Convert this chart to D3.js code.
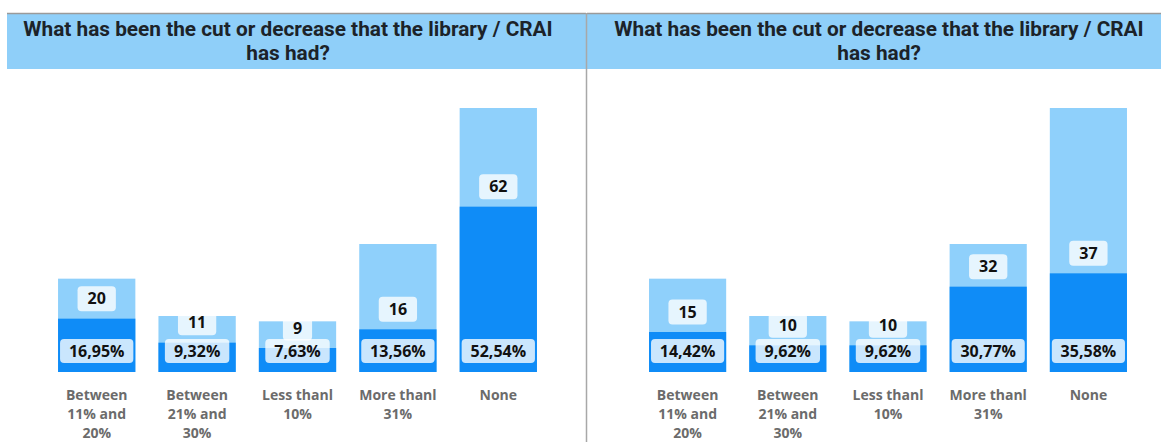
<!DOCTYPE html>
<html>
<head>
<meta charset="utf-8">
<script src="https://cdn.jsdelivr.net/npm/d3@7"></script>
<style>
  html, body { margin: 0; padding: 0; background: #fff; }
  svg { display: block; }
</style>
</head>
<body>
<svg id="chart" width="1161" height="442"></svg>
<script>
// Response categories and their wrapped axis labels
const categories = ["Between 11% and 20%", "Between 21% and 30%", "Less thanl 10%", "More thanl 31%", "None"];
const categoryLines = [
  ["Between", "11% and", "20%"],
  ["Between", "21% and", "30%"],
  ["Less thanl", "10%"],
  ["More thanl", "31%"],
  ["None"]
];

// Counts per group
const countsLeft = [20, 11, 9, 16, 62];
const countsRight = [15, 10, 10, 32, 37];
// Both groups combined (background bars)
const countsCombined = [35, 21, 19, 48, 99];
// Share of each group's total
const pctLeft = ["16,95%", "9,32%", "7,63%", "13,56%", "52,54%"];
const pctRight = ["14,42%", "9,62%", "9,62%", "30,77%", "35,58%"];

const titleLines = ["What has been the cut or decrease that the library / CRAI", "has had?"];

const svg = d3.select("#chart");
const W = 1161, H = 442;
const baseY = 372, topY = 108;

const y = d3.scaleLinear().domain([0, d3.max(countsCombined)]).range([baseY, topY]);

const panels = [
  { x0: 7, x1: 586, range: [46.5, 548.5], counts: countsLeft, pct: pctLeft, cx: 288 },
  { x0: 587, x1: 1161, range: [637.5, 1138.5], counts: countsRight, pct: pctRight, cx: 879 }
];

const colLight = "#8fd0fb";
const colDark = "#0f8cf7";

panels.forEach(p => {
  const g = svg.append("g");

  // Title band
  g.append("rect")
    .attr("x", p.x0).attr("y", 13)
    .attr("width", p.x1 - p.x0).attr("height", 56)
    .attr("fill", "#8fcff9");
  g.append("line")
    .attr("x1", p.x0).attr("x2", p.x1).attr("y1", 13.5).attr("y2", 13.5)
    .attr("stroke", "#9a9a9a").attr("stroke-width", 1.5);

  g.selectAll("text.title").data(titleLines).join("text")
    .attr("class", "title")
    .attr("x", p.cx)
    .attr("y", (d, i) => 36 + i * 24)
    .attr("text-anchor", "middle")
    .attr("font-family", "Roboto, 'DejaVu Sans', sans-serif")
    .attr("font-weight", 700)
    .attr("font-size", 20.8)
    .attr("fill", "#1c2329")
    .text(d => d);

  const x = d3.scaleBand().domain(categories).range(p.range)
    .paddingInner(0.23).paddingOuter(0.115);

  const rows = categories.map((c, i) => ({
    cat: c, count: p.counts[i], total: countsCombined[i], pct: p.pct[i], lines: categoryLines[i]
  }));

  // Combined bars
  g.selectAll("rect.bg").data(rows).join("rect")
    .attr("class", "bg")
    .attr("x", d => x(d.cat)).attr("width", x.bandwidth())
    .attr("y", d => y(d.total)).attr("height", d => y(0) - y(d.total))
    .attr("fill", colLight);

  // Group bars
  g.selectAll("rect.fg").data(rows).join("rect")
    .attr("class", "fg")
    .attr("x", d => x(d.cat)).attr("width", x.bandwidth())
    .attr("y", d => y(d.count)).attr("height", d => y(0) - y(d.count))
    .attr("fill", colDark);

  const labelFont = "'Open Sans', 'Noto Sans', sans-serif";

  // Count labels above each group bar
  const cl = g.selectAll("g.count").data(rows).join("g")
    .attr("class", "count")
    .attr("transform", d => `translate(${x(d.cat) + x.bandwidth() / 2},${y(d.count) - 20})`);
  cl.append("text")
    .attr("text-anchor", "middle").attr("dy", "0.36em")
    .attr("font-family", labelFont).attr("font-weight", 700).attr("font-size", 16)
    .attr("fill", "#111").text(d => d.count);
  cl.insert("rect", "text")
    .each(function () {
      const w = this.parentNode.querySelector("text").getComputedTextLength() + 20;
      d3.select(this).attr("x", -w / 2).attr("width", w);
    })
    .attr("y", -12.5).attr("height", 25).attr("rx", 4)
    .attr("fill", "#fff").attr("fill-opacity", 0.78);

  // Percentage labels at the base of each group bar
  const pl = g.selectAll("g.pct").data(rows).join("g")
    .attr("class", "pct")
    .attr("transform", d => `translate(${x(d.cat) + x.bandwidth() / 2},${y(0) - 21})`);
  pl.append("text")
    .attr("text-anchor", "middle").attr("dy", "0.36em")
    .attr("font-family", labelFont).attr("font-weight", 700).attr("font-size", 16)
    .attr("fill", "#111").text(d => d.pct);
  pl.insert("rect", "text")
    .each(function () {
      const w = Math.min(this.parentNode.querySelector("text").getComputedTextLength() + 18, x.bandwidth() - 4);
      d3.select(this).attr("x", -w / 2).attr("width", w);
    })
    .attr("y", -12).attr("height", 24).attr("rx", 4)
    .attr("fill", "#fff").attr("fill-opacity", 0.78);

  // Category axis
  const axis = g.append("g")
    .attr("transform", `translate(0,${baseY})`)
    .call(d3.axisBottom(x).tickSize(0).tickPadding(0));
  axis.select(".domain").remove();
  axis.selectAll(".tick text").each(function (c) {
    const lines = categoryLines[categories.indexOf(c)];
    const t = d3.select(this).text(null)
      .attr("y", 28).attr("dy", null)
      .attr("font-family", labelFont).attr("font-weight", 700).attr("font-size", 14)
      .attr("fill", "#6b6b6b");
    lines.forEach((ln, i) => {
      t.append("tspan").attr("x", 0).attr("dy", i === 0 ? 0 : 19).text(ln);
    });
  });
});

// Divider between the two panels
svg.append("line")
  .attr("x1", 586.5).attr("x2", 586.5).attr("y1", 13).attr("y2", H)
  .attr("stroke", "#a8a8a8").attr("stroke-width", 1.5);
</script>
</body>
</html>
